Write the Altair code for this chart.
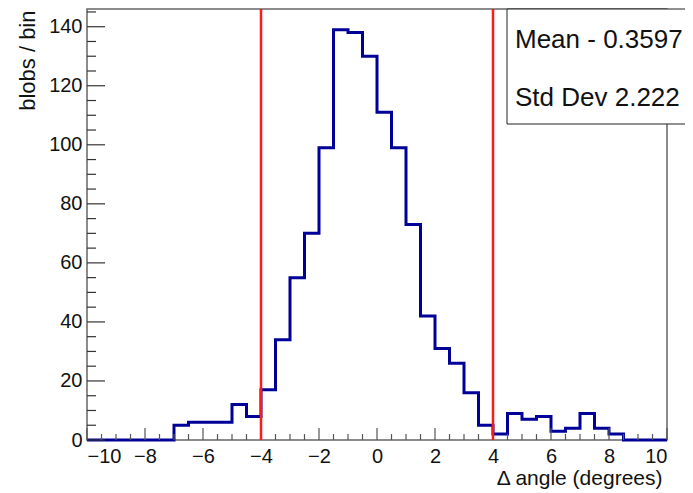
import altair as alt
import pandas as pd

# ---- data ----
x_min, x_max, bin_width = -10.0, 10.0, 0.5
counts = [0, 0, 0, 0, 0, 0, 5, 6, 6, 6,
          12, 8, 17, 34, 55, 70, 99, 139, 138, 130,
          111, 99, 73, 42, 31, 26, 16, 5, 2, 9,
          7, 8, 3, 4, 9, 4, 2, 0, 0, 0]
cut_positions = [-4, 4]
x_label_values = [-10, -8, -6, -4, -2, 0, 2, 4, 6, 8, 10]
y_label_values = [0, 20, 40, 60, 80, 100, 120, 140]
y_minor_values = [v for v in range(5, 150, 5) if v % 20 != 0]
x_minor_values = [x_min + 0.5 * i for i in range(41) if (x_min + 0.5 * i) % 2 != 0]
stat_lines = ["Mean - 0.3597", "Std Dev 2.222"]
y_max = 146

W, H = 580, 431
FONT = "Liberation Sans"

edges = [x_min + bin_width * i for i in range(len(counts))] + [x_max]
hist_df = pd.DataFrame({"x": edges, "count": counts + [counts[-1]]})

xscale = alt.Scale(domain=[x_min, x_max], nice=False, zero=False)
yscale = alt.Scale(domain=[0, y_max], nice=False)

x_axis = alt.Axis(
    values=x_label_values, format="d", title="Δ angle (degrees)",
    ticks=False, tickSize=0, domain=False, grid=False,
    labelFont=FONT, labelFontSize=20, labelColor="#111", labelPadding=6,
    titleFont=FONT, titleFontSize=21, titleFontWeight="normal", titleColor="#111",
    titleAnchor="end", titleAlign="right", titleBaseline="alphabetic",
    titleX=W - 5, titleY=44)
y_axis = alt.Axis(
    values=y_label_values, format="d", title="blobs / bin",
    ticks=False, tickSize=0, domain=False, grid=False,
    labelFont=FONT, labelFontSize=20, labelColor="#111", labelPadding=5,
    titleFont=FONT, titleFontSize=22, titleFontWeight="normal", titleColor="#111",
    titleAngle=270, titleAlign="right", titleBaseline="alphabetic",
    titleX=-53, titleY=1)

X = lambda: alt.X("x:Q", scale=xscale, axis=x_axis)
Y = lambda: alt.Y("count:Q", scale=yscale, axis=y_axis)

hist = alt.Chart(hist_df).mark_line(
    interpolate="step-after", color="#000099", strokeWidth=3
).encode(x=X(), y=Y())

cuts = alt.Chart(pd.DataFrame({"x": cut_positions})).mark_rule(
    color="#ff1a1a", strokeWidth=2.5
).encode(x=X(), y=alt.value(0), y2=alt.value(H))

y_major_ticks = alt.Chart(pd.DataFrame({"count": y_label_values})).mark_rule(
    color="#333", strokeWidth=1.2
).encode(y=Y(), x=alt.value(0), x2=alt.value(18))

y_minor_ticks = alt.Chart(pd.DataFrame({"count": y_minor_values})).mark_rule(
    color="#333", strokeWidth=1.2
).encode(y=Y(), x=alt.value(0), x2=alt.value(9))

x_major_ticks = alt.Chart(pd.DataFrame({"x": x_label_values})).mark_rule(
    color="#555", strokeWidth=1.2
).encode(x=X(), y=alt.value(H), y2=alt.value(H - 12))

x_minor_ticks = alt.Chart(pd.DataFrame({"x": x_minor_values})).mark_rule(
    color="#555", strokeWidth=1.2
).encode(x=X(), y=alt.value(H), y2=alt.value(H - 6))

box = alt.Chart(pd.DataFrame({"a": [0]})).mark_rect(
    fill="white", stroke="#222", strokeWidth=1
).encode(x=alt.value(420), x2=alt.value(650), y=alt.value(0), y2=alt.value(115))

stat_layers = []
for line, base in zip(stat_lines, [39, 97]):
    stat_layers.append(alt.Chart(pd.DataFrame({"a": [0]})).mark_text(
        font=FONT, fontSize=26, color="#111", align="left", baseline="alphabetic"
    ).encode(x=alt.value(428), y=alt.value(base), text=alt.value(line)))

chart = alt.layer(
    hist, y_major_ticks, y_minor_ticks, x_major_ticks, x_minor_ticks, cuts, box, *stat_layers
).properties(
    width=W, height=H,
    autosize=alt.AutoSizeParams(type="none"),
    padding={"left": 79, "top": 1, "right": 18, "bottom": 51},
).configure_view(stroke="#666", strokeWidth=1.5)

chart.save("out.html", embed_options={"renderer": "svg", "actions": False})
